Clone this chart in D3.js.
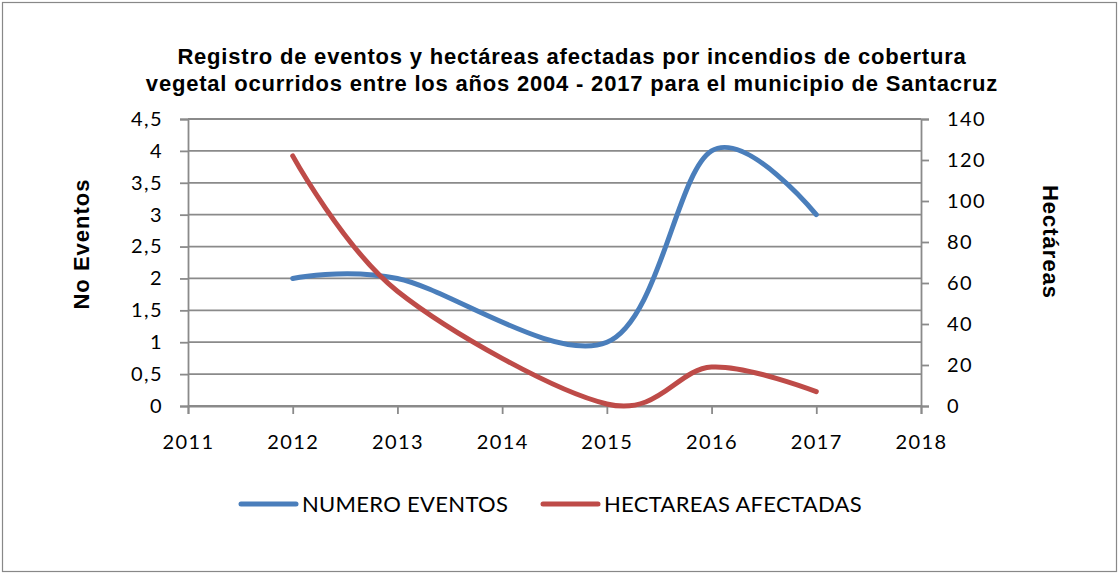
<!DOCTYPE html>
<html>
<head>
<meta charset="utf-8">
<script src="https://cdn.jsdelivr.net/npm/d3@7"></script>
<style>
  body { margin: 0; background: #fff; }
  svg text { fill: #000; }
</style>
</head>
<body>
<div id="chart"></div>
<script>
// data (2014 has no point)
const years = [2012, 2013, 2015, 2016, 2017];
const eventos = [2, 2, 1, 4, 3];
const hectareas = [122, 56, 1, 19, 7];
const leftTicks = [0, 0.5, 1, 1.5, 2, 2.5, 3, 3.5, 4, 4.5];
const rightTicks = [0, 20, 40, 60, 80, 100, 120, 140];
const xTicks = [2011, 2012, 2013, 2014, 2015, 2016, 2017, 2018];
const seriesNames = ["NUMERO EVENTOS", "HECTAREAS AFECTADAS"];
const titleLines = [
  "Registro de eventos y hectáreas afectadas por incendios de cobertura",
  "vegetal ocurridos entre los años 2004 - 2017 para el municipio de Santacruz"
];

const width = 1119, height = 574;
const margin = { top: 119, right: 198, bottom: 168, left: 188 };

let svg = d3.select("#chart")
  .append("svg")
    .attr("width", width)
    .attr("height", height);

// outer frame
svg.append("rect")
  .attr("x", 2.5).attr("y", 2.5)
  .attr("width", width - 5).attr("height", height - 5)
  .attr("fill", "#fff")
  .attr("stroke", "#888").attr("stroke-width", 1.2);

let xScale = d3.scaleLinear()
  .domain([2011, 2018])
  .range([margin.left, width - margin.right]);

let yLeft = d3.scaleLinear()
  .domain([0, 4.5])
  .range([height - margin.bottom, margin.top]);

let yRight = d3.scaleLinear()
  .domain([0, 140])
  .range([height - margin.bottom, margin.top]);

const gridColor = "#8a8a8a";
const comma = (d) => String(d).replace(".", ",");

// horizontal gridlines
svg.append("g")
  .selectAll("line")
  .data(leftTicks)
  .join("line")
    .attr("x1", margin.left)
    .attr("x2", width - margin.right)
    .attr("y1", (d) => yLeft(d))
    .attr("y2", (d) => yLeft(d))
    .attr("stroke", gridColor)
    .attr("stroke-width", 1.8);

// left axis
let gl = svg.append("g")
  .attr("transform", `translate(${margin.left}, 0)`)
  .call(d3.axisLeft(yLeft).tickValues(leftTicks).tickSize(8).tickPadding(17).tickFormat(comma));

// right axis
let gr = svg.append("g")
  .attr("transform", `translate(${width - margin.right}, 0)`)
  .call(d3.axisRight(yRight).tickValues(rightTicks).tickSize(8).tickPadding(18));

// bottom axis
let gb = svg.append("g")
  .attr("transform", `translate(0, ${height - margin.bottom})`)
  .call(d3.axisBottom(xScale).tickValues(xTicks).tickSize(8).tickPadding(21).tickFormat(d3.format("d")));

[gl, gr, gb].forEach((g) => {
  g.select(".domain").attr("stroke", gridColor).attr("stroke-width", 1.8);
  g.selectAll(".tick line").attr("stroke", gridColor).attr("stroke-width", 1.8);
  g.selectAll(".tick text")
    .attr("fill", "#000")
    .attr("font-family", "Lato, 'Open Sans', sans-serif")
    .attr("font-size", "20px")
    .attr("letter-spacing", "1.4px");
});

// lines
const line = (vals, scale) => d3.line()
  .x((d, i) => xScale(years[i]))
  .y((d) => scale(d))
  .curve(d3.curveCardinal.tension(0))(vals);

svg.append("path")
  .attr("d", line(eventos, yLeft))
  .attr("fill", "none")
  .attr("stroke", "#4a7ebb")
  .attr("stroke-width", 5)
  .attr("stroke-linecap", "round");

svg.append("path")
  .attr("d", line(hectareas, yRight))
  .attr("fill", "none")
  .attr("stroke", "#be4b48")
  .attr("stroke-width", 5)
  .attr("stroke-linecap", "round");

// title
svg.append("text")
  .attr("text-anchor", "middle")
  .attr("font-family", "'Liberation Sans', Arial, sans-serif")
  .attr("font-weight", "bold")
  .attr("font-size", "22px")
  .attr("letter-spacing", "0.8px")
  .selectAll("tspan")
  .data(titleLines)
  .join("tspan")
    .attr("x", 572)
    .attr("y", (d, i) => 63.5 + i * 27.5)
    .text((d) => d);

// axis titles
svg.append("text")
  .attr("transform", "translate(89, 244) rotate(-90)")
  .attr("text-anchor", "middle")
  .attr("font-family", "'Liberation Sans', Arial, sans-serif")
  .attr("font-weight", "bold")
  .attr("font-size", "22px")
  .attr("letter-spacing", "1px")
  .text("No Eventos");

svg.append("text")
  .attr("transform", "translate(1043, 242) rotate(90)")
  .attr("text-anchor", "middle")
  .attr("font-family", "'Liberation Sans', Arial, sans-serif")
  .attr("font-weight", "bold")
  .attr("font-size", "22px")
  .attr("letter-spacing", "1px")
  .text("Hectáreas");

// legend
const legendColors = ["#4a7ebb", "#be4b48"];
const legendX = [241, 543];
let lg = svg.append("g")
  .selectAll("g")
  .data(seriesNames)
  .join("g")
    .attr("transform", (d, i) => `translate(${legendX[i]}, 504)`);

lg.append("line")
  .attr("x1", 0).attr("x2", 55)
  .attr("stroke", (d, i) => legendColors[i])
  .attr("stroke-width", 5)
  .attr("stroke-linecap", "round");

lg.append("text")
  .attr("x", 61)
  .attr("dy", "0.36em")
  .attr("font-family", "Lato, 'Open Sans', sans-serif")
  .attr("font-size", "22px")
  .attr("letter-spacing", "0.3px")
  .text((d) => d);
</script>
</body>
</html>
